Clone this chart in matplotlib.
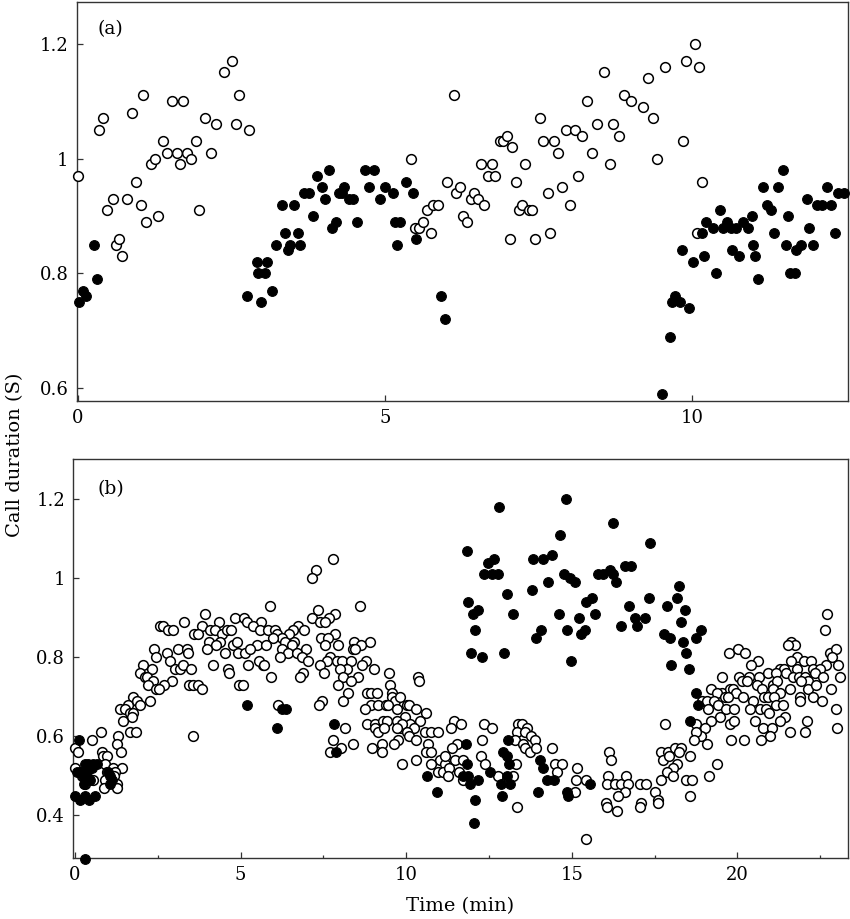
import numpy as np
import matplotlib
matplotlib.use('Agg')
import matplotlib.pyplot as plt
from matplotlib.ticker import MultipleLocator, FuncFormatter

plt.rcParams['font.family'] = ['DejaVu Serif']

# panel (a): (time in min, call duration in s)
a_open = np.array([
    (0.0, 0.97), (0.35, 1.05), (0.41, 1.07), (0.48, 0.91), (0.57, 0.93), (0.63, 0.85), (0.68, 0.86),
    (0.73, 0.83), (0.80, 0.93), (0.88, 1.08), (0.95, 0.96), (1.03, 0.92), (1.07, 1.11), (1.12, 0.89),
    (1.20, 0.99), (1.26, 1.00), (1.31, 0.90), (1.39, 1.03), (1.45, 1.01), (1.53, 1.10), (1.61, 1.01),
    (1.66, 0.99), (1.72, 1.10), (1.78, 1.01), (1.85, 1.00), (1.92, 1.03), (1.97, 0.91), (2.07, 1.07),
    (2.17, 1.01), (2.26, 1.06), (2.39, 1.15), (2.51, 1.17), (2.57, 1.06), (2.63, 1.11), (2.79, 1.05),
    (5.43, 1.00), (5.50, 0.88), (5.56, 0.88), (5.63, 0.89), (5.69, 0.91), (5.75, 0.87), (5.79, 0.92),
    (5.86, 0.92), (6.02, 0.96), (6.12, 1.11), (6.16, 0.94), (6.23, 0.95), (6.28, 0.90), (6.34, 0.89),
    (6.41, 0.93), (6.46, 0.94), (6.51, 0.93), (6.56, 0.99), (6.61, 0.92), (6.68, 0.97), (6.74, 0.99),
    (6.79, 0.97), (6.87, 1.03), (6.93, 1.03), (6.99, 1.04), (7.04, 0.86), (7.07, 1.02), (7.13, 0.96),
    (7.19, 0.91), (7.24, 0.92), (7.29, 0.99), (7.34, 0.91), (7.40, 0.91), (7.45, 0.86), (7.52, 1.07),
    (7.58, 1.03), (7.65, 0.94), (7.69, 0.87), (7.75, 1.03), (7.82, 1.01), (7.88, 0.95), (7.95, 1.05),
    (8.02, 0.92), (8.09, 1.05), (8.15, 0.97), (8.21, 1.04), (8.29, 1.10), (8.38, 1.01), (8.46, 1.06),
    (8.57, 1.15), (8.66, 0.99), (8.72, 1.06), (8.81, 1.04), (8.89, 1.11), (9.01, 1.10), (9.20, 1.09),
    (9.29, 1.14), (9.37, 1.07), (9.43, 1.00), (9.56, 1.16), (9.85, 1.03), (9.90, 1.17), (10.05, 1.20),
    (10.08, 0.87), (10.12, 1.16), (10.17, 0.96),
])
a_filled = np.array([
    (0.03, 0.75), (0.09, 0.77), (0.14, 0.76), (0.27, 0.85), (0.31, 0.79), (2.75, 0.76), (2.92, 0.82),
    (2.94, 0.80), (2.98, 0.75), (3.05, 0.80), (3.09, 0.82), (3.17, 0.77), (3.23, 0.85), (3.33, 0.92),
    (3.37, 0.87), (3.43, 0.84), (3.46, 0.85), (3.52, 0.92), (3.59, 0.87), (3.62, 0.85), (3.69, 0.94),
    (3.77, 0.94), (3.83, 0.90), (3.89, 0.97), (3.97, 0.95), (4.03, 0.93), (4.10, 0.98), (4.14, 0.88),
    (4.20, 0.89), (4.26, 0.94), (4.30, 0.94), (4.34, 0.95), (4.41, 0.93), (4.49, 0.93), (4.55, 0.89),
    (4.68, 0.98), (4.74, 0.95), (4.83, 0.98), (4.93, 0.93), (5.00, 0.95), (5.13, 0.94), (5.16, 0.89),
    (5.20, 0.85), (5.25, 0.89), (5.35, 0.96), (5.46, 0.94), (5.51, 0.86), (5.91, 0.76), (5.98, 0.72),
    (9.52, 0.59), (9.64, 0.69), (9.68, 0.75), (9.73, 0.76), (9.80, 0.75), (9.84, 0.84), (9.96, 0.74),
    (10.01, 0.82), (10.17, 0.87), (10.20, 0.83), (10.23, 0.89), (10.35, 0.88), (10.40, 0.80),
    (10.46, 0.91), (10.51, 0.88), (10.57, 0.89), (10.64, 0.88), (10.66, 0.84), (10.72, 0.88),
    (10.77, 0.83), (10.83, 0.89), (10.92, 0.88), (10.97, 0.90), (11.00, 0.85), (11.03, 0.83),
    (11.08, 0.79), (11.15, 0.95), (11.22, 0.92), (11.28, 0.91), (11.33, 0.87), (11.40, 0.95),
    (11.48, 0.98), (11.53, 0.85), (11.57, 0.90), (11.60, 0.80), (11.67, 0.80), (11.70, 0.84),
    (11.77, 0.85), (11.87, 0.93), (11.91, 0.88), (11.97, 0.85), (12.04, 0.92), (12.11, 0.92),
    (12.20, 0.95), (12.26, 0.92), (12.33, 0.87), (12.38, 0.94), (12.47, 0.94),
])

# panel (b)
b_open = np.array([
    (3.92, 0.91), (4.83, 0.90), (5.10, 0.90), (5.18, 0.89), (5.63, 0.89), (4.35, 0.89), (3.30, 0.89),
    (2.57, 0.88), (2.67, 0.88), (2.80, 0.87), (2.97, 0.87), (3.82, 0.88), (3.60, 0.86), (3.72, 0.86),
    (4.07, 0.87), (4.22, 0.87), (4.43, 0.86), (4.58, 0.87), (4.71, 0.87), (5.38, 0.88), (5.58, 0.87),
    (4.04, 0.84), (4.38, 0.84), (4.27, 0.83), (4.76, 0.83), (4.89, 0.84), (5.48, 0.83), (3.99, 0.82),
    (2.39, 0.82), (2.77, 0.81), (3.12, 0.82), (3.37, 0.82), (3.40, 0.81), (4.53, 0.81), (4.93, 0.81),
    (5.13, 0.81), (5.28, 0.82), (2.46, 0.80), (2.87, 0.79), (5.68, 0.78), (5.56, 0.79), (2.06, 0.78),
    (2.31, 0.77), (3.02, 0.77), (3.17, 0.77), (3.27, 0.78), (3.50, 0.77), (4.17, 0.78), (4.61, 0.77),
    (4.66, 0.76), (5.23, 0.78), (1.96, 0.76), (2.11, 0.75), (2.16, 0.75), (2.36, 0.74), (2.19, 0.73),
    (2.94, 0.74), (2.70, 0.73), (2.44, 0.72), (2.55, 0.72), (3.44, 0.73), (3.57, 0.73), (3.70, 0.73),
    (3.82, 0.72), (4.95, 0.73), (5.06, 0.73), (1.76, 0.70), (1.61, 0.68), (1.86, 0.69), (1.96, 0.68),
    (2.26, 0.69), (1.36, 0.67), (1.51, 0.67), (1.66, 0.66), (1.76, 0.66), (1.71, 0.65), (1.46, 0.64),
    (1.66, 0.61), (1.84, 0.61), (0.78, 0.61), (1.31, 0.60), (3.55, 0.60), (0.50, 0.59), (1.26, 0.58),
    (0.0, 0.57), (0.08, 0.56), (0.80, 0.56), (1.39, 0.56), (0.86, 0.55), (0.96, 0.55), (0.91, 0.53),
    (1.16, 0.52), (1.43, 0.52), (0.0, 0.52), (0.96, 0.51), (1.21, 0.51), (0.55, 0.49), (0.91, 0.49),
    (1.19, 0.50), (1.26, 0.48), (0.88, 0.47), (1.26, 0.47), (0.20, 0.50), (0.30, 0.48),
    (7.80, 1.05), (7.29, 1.02), (7.15, 1.00), (5.89, 0.93), (8.60, 0.93), (7.33, 0.92), (7.85, 0.91),
    (7.67, 0.90), (7.16, 0.90), (7.39, 0.89), (7.55, 0.89), (5.82, 0.87), (6.04, 0.87), (6.72, 0.88),
    (6.59, 0.87), (6.46, 0.86), (6.91, 0.87), (6.09, 0.86), (6.24, 0.85), (7.85, 0.86), (5.98, 0.85),
    (7.44, 0.85), (7.64, 0.85), (6.34, 0.84), (6.62, 0.84), (8.43, 0.84), (8.90, 0.84), (5.78, 0.83),
    (7.55, 0.83), (7.95, 0.83), (8.63, 0.83), (6.25, 0.82), (6.54, 0.83), (6.97, 0.82), (8.40, 0.82),
    (8.45, 0.82), (6.44, 0.81), (6.69, 0.81), (6.19, 0.80), (6.84, 0.80), (7.04, 0.79), (7.70, 0.80),
    (7.60, 0.79), (7.90, 0.79), (8.07, 0.79), (8.32, 0.79), (8.80, 0.79), (7.39, 0.78), (8.20, 0.77),
    (8.00, 0.77), (8.67, 0.78), (9.03, 0.77), (5.72, 0.78), (7.53, 0.76), (6.89, 0.76), (6.79, 0.75),
    (5.92, 0.75), (8.10, 0.75), (8.53, 0.75), (9.48, 0.76), (10.36, 0.75), (10.38, 0.74), (8.33, 0.74),
    (7.95, 0.73), (9.51, 0.73), (8.23, 0.71), (8.83, 0.71), (8.95, 0.71), (9.13, 0.71), (9.56, 0.71),
    (9.58, 0.70), (8.08, 0.69), (7.46, 0.69), (7.36, 0.68), (9.66, 0.69), (9.81, 0.70), (8.95, 0.68),
    (9.15, 0.68), (9.38, 0.68), (9.46, 0.68), (10.01, 0.68), (10.08, 0.68), (8.75, 0.67), (9.71, 0.67),
    (9.96, 0.65), (10.30, 0.67), (10.59, 0.66), (10.43, 0.64), (8.81, 0.63), (9.05, 0.63), (9.31, 0.64),
    (9.41, 0.64), (9.71, 0.64), (9.84, 0.62), (10.11, 0.63), (10.24, 0.62), (9.86, 0.63), (9.07, 0.62),
    (9.15, 0.61), (9.33, 0.62), (9.73, 0.62), (10.01, 0.61), (10.08, 0.60), (10.29, 0.59),
    (10.56, 0.61), (10.76, 0.61), (10.97, 0.61), (8.15, 0.62), (9.76, 0.59), (9.63, 0.58), (9.28, 0.58),
    (9.26, 0.56), (8.97, 0.57), (8.40, 0.58), (7.80, 0.59), (7.70, 0.56), (8.03, 0.57), (10.66, 0.58),
    (10.61, 0.56), (10.74, 0.56), (11.02, 0.54), (11.17, 0.53), (10.74, 0.53), (10.31, 0.54),
    (9.86, 0.53), (10.96, 0.51), (11.10, 0.51), (6.14, 0.68),
    (11.45, 0.64), (11.35, 0.62), (11.65, 0.63), (12.34, 0.63), (12.60, 0.62), (13.38, 0.63),
    (13.50, 0.63), (13.66, 0.62), (13.33, 0.61), (13.58, 0.61), (13.76, 0.60), (13.88, 0.59),
    (13.28, 0.59), (13.53, 0.58), (13.60, 0.57), (13.73, 0.56), (13.91, 0.57), (14.39, 0.57),
    (11.52, 0.58), (11.39, 0.57), (12.30, 0.59), (11.17, 0.55), (11.47, 0.54), (11.72, 0.54),
    (12.27, 0.55), (12.37, 0.53), (11.29, 0.52), (11.59, 0.51), (11.27, 0.50), (11.72, 0.49),
    (12.78, 0.50), (13.23, 0.50), (13.30, 0.53), (14.49, 0.53), (14.69, 0.53), (14.54, 0.51),
    (15.17, 0.52), (15.14, 0.49), (15.44, 0.49), (16.12, 0.56), (16.17, 0.54), (16.09, 0.50),
    (16.07, 0.48), (16.30, 0.48), (16.50, 0.48), (16.65, 0.50), (16.70, 0.48), (17.05, 0.48),
    (17.25, 0.48), (16.60, 0.46), (16.40, 0.45), (16.02, 0.43), (16.05, 0.42), (16.37, 0.41),
    (17.10, 0.43), (17.05, 0.42), (13.33, 0.42), (15.09, 0.46), (15.44, 0.34),
    (22.71, 0.91), (22.65, 0.87), (19.75, 0.81), (20.03, 0.82), (20.23, 0.81), (20.62, 0.79),
    (20.42, 0.78), (21.63, 0.84), (21.73, 0.83), (21.53, 0.83), (22.79, 0.81), (22.97, 0.82),
    (22.87, 0.80), (21.80, 0.80), (22.00, 0.79), (22.23, 0.79), (21.63, 0.79), (22.66, 0.78),
    (23.04, 0.78), (21.28, 0.77), (21.40, 0.77), (21.48, 0.76), (21.80, 0.77), (22.28, 0.77),
    (22.48, 0.77), (22.33, 0.76), (23.09, 0.75), (22.58, 0.75), (19.52, 0.75), (20.05, 0.75),
    (20.35, 0.75), (20.65, 0.75), (20.92, 0.76), (21.18, 0.76), (21.68, 0.75), (21.86, 0.75),
    (22.03, 0.75), (22.13, 0.74), (21.93, 0.74), (20.15, 0.74), (20.29, 0.74), (20.58, 0.73),
    (20.73, 0.72), (21.08, 0.73), (21.20, 0.74), (21.06, 0.72), (19.21, 0.72), (19.52, 0.71),
    (19.77, 0.72), (19.87, 0.72), (21.58, 0.72), (22.13, 0.72), (22.37, 0.73), (22.82, 0.72),
    (19.37, 0.71), (19.62, 0.70), (19.97, 0.71), (20.17, 0.70), (19.72, 0.70), (21.28, 0.71),
    (20.80, 0.70), (20.92, 0.70), (21.10, 0.70), (21.90, 0.70), (22.27, 0.70), (20.47, 0.69),
    (18.92, 0.69), (19.07, 0.69), (19.29, 0.69), (19.12, 0.67), (19.42, 0.68), (19.66, 0.67),
    (19.90, 0.67), (20.38, 0.67), (20.68, 0.67), (20.86, 0.67), (21.15, 0.68), (21.38, 0.68),
    (21.88, 0.69), (22.54, 0.69), (22.99, 0.67), (20.95, 0.66), (19.47, 0.65), (21.45, 0.65),
    (19.77, 0.63), (19.90, 0.64), (20.52, 0.64), (21.30, 0.64), (22.11, 0.64), (19.21, 0.64),
    (18.74, 0.63), (19.02, 0.62), (20.77, 0.62), (21.05, 0.62), (23.00, 0.62), (18.91, 0.60),
    (18.74, 0.61), (20.98, 0.60), (21.60, 0.61), (22.04, 0.61), (19.82, 0.59), (20.19, 0.59),
    (20.72, 0.59), (18.69, 0.59), (19.07, 0.58), (17.82, 0.63), (17.68, 0.56), (17.91, 0.56),
    (18.11, 0.57), (18.31, 0.57), (18.24, 0.56), (18.56, 0.55), (17.76, 0.54), (17.94, 0.55),
    (18.18, 0.53), (18.06, 0.52), (17.88, 0.51), (18.06, 0.50), (19.37, 0.53), (19.15, 0.50),
    (17.68, 0.49), (18.46, 0.49), (18.64, 0.49), (17.50, 0.46), (17.61, 0.44), (17.61, 0.43),
    (18.58, 0.45),
])
b_filled = np.array([
    (0.13, 0.59), (5.18, 0.68), (0.30, 0.29), (0.05, 0.51), (0.15, 0.51), (0.30, 0.53), (0.40, 0.53),
    (0.55, 0.53), (0.65, 0.53), (0.35, 0.51), (0.50, 0.52), (0.25, 0.50), (0.28, 0.48), (0.45, 0.49),
    (0.0, 0.45), (0.15, 0.44), (0.30, 0.45), (0.42, 0.44), (0.60, 0.45), (1.01, 0.51), (1.06, 0.50),
    (1.11, 0.49), (1.06, 0.48),
    (6.24, 0.67), (6.36, 0.67), (6.11, 0.62), (7.83, 0.63), (7.87, 0.56), (10.64, 0.50), (10.92, 0.46),
    (14.81, 1.20), (12.81, 1.18), (16.23, 1.14), (14.64, 1.11), (17.35, 1.09), (11.85, 1.07),
    (12.48, 1.04), (12.66, 1.05), (13.83, 1.05), (14.14, 1.05), (14.41, 1.06), (12.35, 1.01),
    (12.58, 1.01), (12.78, 1.01), (14.77, 1.01), (14.94, 1.00), (15.09, 0.99), (14.29, 0.99),
    (15.78, 1.01), (15.95, 1.01), (16.15, 1.02), (16.25, 1.01), (16.32, 0.99), (16.60, 1.03),
    (16.80, 1.03), (13.03, 0.96), (13.80, 0.97), (11.87, 0.94), (12.02, 0.91), (12.17, 0.92),
    (13.23, 0.91), (14.61, 0.91), (15.21, 0.90), (15.44, 0.94), (15.62, 0.95), (15.71, 0.91),
    (16.72, 0.93), (16.90, 0.90), (17.20, 0.90), (17.33, 0.95), (12.09, 0.87), (14.06, 0.87),
    (13.91, 0.85), (14.84, 0.87), (15.29, 0.86), (15.39, 0.87), (16.47, 0.88), (16.96, 0.88),
    (11.97, 0.81), (12.29, 0.80), (12.96, 0.81), (14.99, 0.79),
    (11.82, 0.58), (11.85, 0.53), (13.08, 0.59), (12.93, 0.56), (13.03, 0.55), (13.10, 0.53),
    (11.72, 0.50), (11.87, 0.50), (11.92, 0.48), (12.17, 0.49), (12.52, 0.51), (12.86, 0.48),
    (13.03, 0.50), (13.13, 0.48), (14.03, 0.54), (14.14, 0.52), (14.24, 0.49), (14.47, 0.49),
    (13.98, 0.46), (14.84, 0.46), (14.87, 0.45), (15.56, 0.48), (12.07, 0.44), (12.90, 0.45),
    (12.05, 0.38),
    (18.24, 0.98), (18.18, 0.95), (17.88, 0.93), (18.41, 0.92), (18.31, 0.89), (18.90, 0.87),
    (17.78, 0.86), (17.96, 0.85), (18.36, 0.84), (18.74, 0.85), (18.46, 0.81), (17.98, 0.78),
    (18.54, 0.77), (18.74, 0.71), (18.81, 0.68), (18.56, 0.64),
])

a_yticks = [0.6, 0.8, 1.0, 1.2]
b_yticks = [0.4, 0.6, 0.8, 1.0, 1.2]


def style_axes(ax, yticks):
    for s in ax.spines.values():
        s.set_linewidth(1.0)
        s.set_color('#333333')
    ax.set_yticks(yticks)
    ax.xaxis.set_major_locator(MultipleLocator(5))
    ax.yaxis.set_major_formatter(FuncFormatter(lambda v, p: '%g' % v))
    ax.tick_params(which='major', direction='in', length=4.5, width=0.9, color='#333333',
                   labelsize=13, pad=6)
    ax.tick_params(which='minor', direction='in', length=2.5, width=0.9, color='#333333')


def draw(ax, open_pts, filled_pts):
    ax.plot(open_pts[:, 0], open_pts[:, 1], 'o', ms=7, mfc='white', mec='black',
            mew=1.1, ls='none', clip_on=False, zorder=3)
    ax.plot(filled_pts[:, 0], filled_pts[:, 1], 'o', ms=7, mfc='black', mec='black',
            mew=0.8, ls='none', clip_on=False, zorder=4)


fig = plt.figure(figsize=(8.5, 9.19), dpi=100)
ax1 = fig.add_axes([0.0906, 0.5637, 0.907, 0.4343])
ax2 = fig.add_axes([0.0863, 0.0664, 0.911, 0.4341])

draw(ax1, a_open, a_filled)
ax1.set_xlim(-0.01, 12.54)
ax1.set_ylim(0.578, 1.273)
style_axes(ax1, a_yticks)
ax1.text(0.043, 0.933, '(a)', transform=ax1.transAxes, fontsize=13.5, ha='center', va='center')

draw(ax2, b_open, b_filled)
ax2.set_xlim(-0.05, 23.33)
ax2.set_ylim(0.292, 1.302)
style_axes(ax2, b_yticks)
ax2.xaxis.set_minor_locator(MultipleLocator(2.5))
ax2.text(0.048, 0.925, '(b)', transform=ax2.transAxes, fontsize=13.5, ha='center', va='center')
ax2.set_xlabel('Time (min)', fontsize=14, labelpad=9)

fig.text(0.018, 0.505, 'Call duration (S)', rotation=90, fontsize=14, ha='center', va='center')

fig.savefig('out.png', dpi=100)
